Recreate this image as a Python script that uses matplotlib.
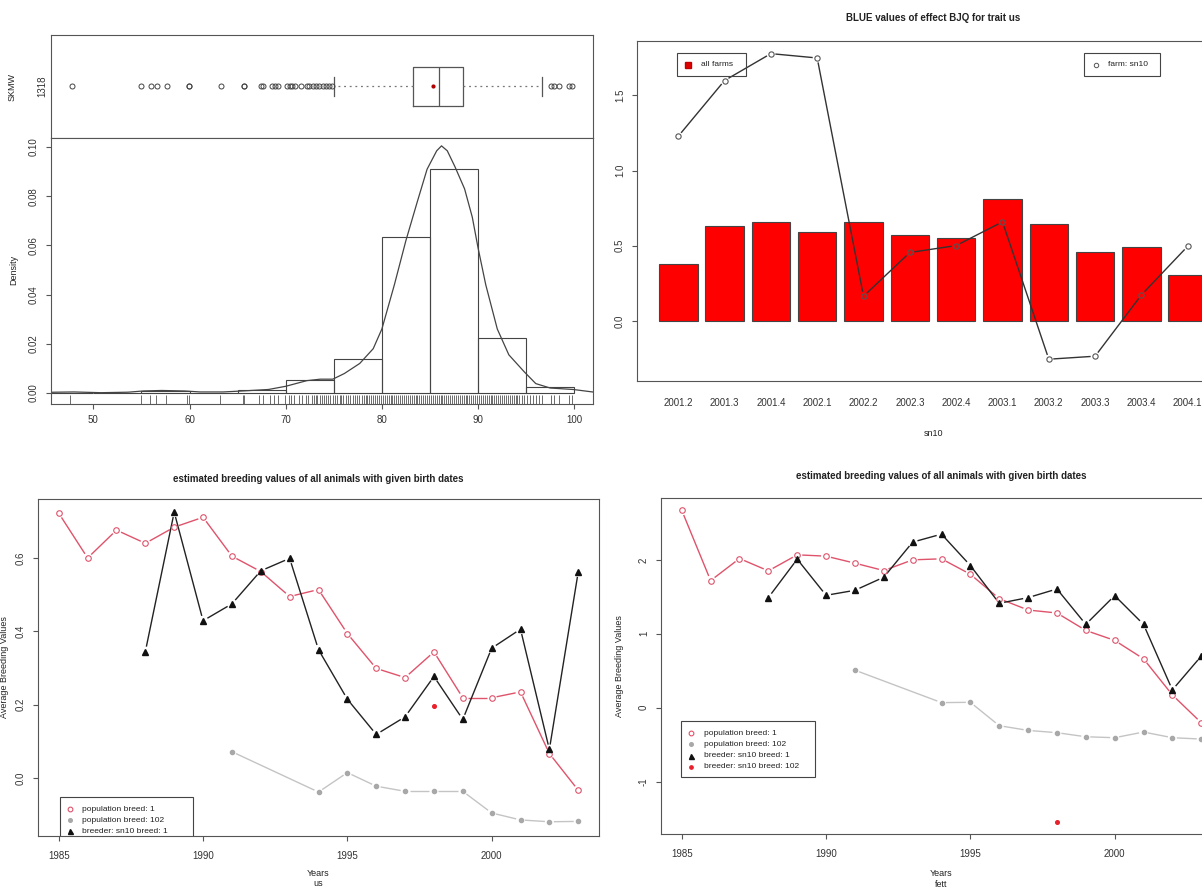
import numpy as np
import matplotlib
matplotlib.use('Agg')
import matplotlib.pyplot as plt
from matplotlib.patches import Rectangle
from matplotlib.lines import Line2D
from matplotlib.collections import LineCollection
from matplotlib.transforms import IdentityTransform

plt.rcParams['font.family'] = ['Liberation Sans', 'DejaVu Sans']

W, H = 1202, 888

# ---- top left: SKMW distribution (n = 1318)
hist_edges = [45, 50, 55, 60, 65, 70, 75, 80, 85, 90, 95, 100]
hist_density = [0.00015, 0.0, 0.0009, 0.00015, 0.0012, 0.0053, 0.0137,
                0.0635, 0.0910, 0.0222, 0.0023]
kde_x = [44.0, 46.0, 48.0, 50.8, 53.6, 55.2, 57.1, 59.5, 61.1, 63.5, 65.5,
         68.2, 70.0, 72.2, 73.6, 74.9, 76.1, 77.7, 79.1, 80.0, 81.3, 82.5,
         83.7, 84.7, 85.7, 86.2, 86.8, 87.6, 88.6, 89.4, 90.0, 90.8, 92.0,
         93.2, 94.8, 96.0, 97.5, 99.9, 101.9, 103.0]
kde_y = [0.0001, 0.0003, 0.0004, 0.0001, 0.0003, 0.0008, 0.0010, 0.0008,
         0.0004, 0.0004, 0.0008, 0.0014, 0.0027, 0.0050, 0.0056, 0.0056,
         0.0079, 0.0120, 0.0180, 0.0260, 0.0440, 0.0620, 0.0780, 0.0910,
         0.0985, 0.1005, 0.0985, 0.0920, 0.0830, 0.0715, 0.0590, 0.0440,
         0.0260, 0.0155, 0.0086, 0.0038, 0.0020, 0.0014, 0.0004, 0.0001]
box_q1, box_med, box_q3 = 83.2, 85.9, 88.4
box_whislo, box_whishi = 75.0, 96.6
box_mean = 85.3
box_outliers = [47.8, 55.0, 56.0, 56.6, 57.7, 59.9, 59.9, 63.3, 65.7, 65.7,
                67.4, 67.6, 68.6, 68.9, 69.2, 70.1, 70.4, 70.7, 71.0, 71.6,
                72.2, 72.4, 72.8, 73.2, 73.5, 73.9, 74.2, 74.5, 74.8,
                97.6, 97.9, 98.4, 99.5, 99.8]
rug_values = [47.6, 55.0, 55.9, 56.5, 57.6, 59.7, 59.9, 63.2, 65.6, 65.7,
              67.2, 67.6, 68.4, 68.8, 69.2, 69.9, 70.3, 70.6, 70.9, 71.4,
              71.7, 72.1, 72.3, 72.7, 72.9, 73.2, 73.3, 73.6, 73.8, 74.0,
              74.2, 74.4, 74.6, 74.9, 75.1, 75.3, 75.6, 75.8, 76.0, 76.3,
              76.5, 76.7, 77.0, 77.2, 77.4, 77.6, 77.9, 78.1, 78.3, 78.5,
              78.7, 78.9, 79.1, 79.3, 79.5, 79.7, 79.9, 80.1, 80.3, 80.5,
              80.7, 80.9, 81.1, 81.3, 81.5, 81.7, 81.9, 82.1, 82.3, 82.5,
              82.7, 82.9, 83.1, 83.3, 83.5, 83.7, 83.9, 84.1, 84.3, 84.5,
              84.7, 84.9, 85.1, 85.3, 85.5, 85.7, 85.9, 86.1, 86.3, 86.5,
              86.7, 86.9, 87.1, 87.3, 87.5, 87.7, 87.9, 88.1, 88.3, 88.5,
              88.7, 88.9, 89.1, 89.3, 89.5, 89.7, 89.9, 90.1, 90.3, 90.5,
              90.7, 90.9, 91.1, 91.3, 91.5, 91.7, 91.9, 92.1, 92.3, 92.5,
              92.7, 92.9, 93.1, 93.3, 93.5, 93.7, 93.9, 94.1, 94.3, 94.6,
              94.8, 95.1, 95.4, 95.7, 96.0, 96.3, 96.6, 97.6, 97.9, 98.4,
              99.5, 99.8]

# ---- top right: BLUE values of effect BJQ
periods = ['2001.2', '2001.3', '2001.4', '2002.1', '2002.2', '2002.3',
           '2002.4', '2003.1', '2003.2', '2003.3', '2003.4', '2004.1']
blue_all = [0.381, 0.634, 0.656, 0.590, 0.656, 0.570, 0.552, 0.814,
            0.643, 0.459, 0.490, 0.302]
blue_sn10 = [1.228, 1.599, 1.778, 1.749, 0.164, 0.455, 0.501, 0.659,
             -0.255, -0.235, 0.173, 0.497]

# ---- bottom: average breeding values by birth year
years = list(range(1985, 2004))
years_sn10 = list(range(1988, 2004))
years_102 = [1991, 1994, 1995, 1996, 1997, 1998, 1999, 2000, 2001, 2002, 2003]
year_sn10_102 = [1998]

us_pop1 = [0.722, 0.600, 0.676, 0.640, 0.684, 0.711, 0.605, 0.563, 0.495,
           0.514, 0.394, 0.299, 0.274, 0.344, 0.219, 0.219, 0.235, 0.067,
           -0.033]
us_sn10_1 = [0.345, 0.725, 0.429, 0.475, 0.565, 0.599, 0.350, 0.215, 0.119,
             0.167, 0.277, 0.160, 0.354, 0.406, 0.078, 0.562]
us_pop102 = [0.072, -0.038, 0.015, -0.022, -0.036, -0.036, -0.036, -0.095,
             -0.114, -0.119, -0.118]
us_sn10_102 = [0.196]

fett_pop1 = [2.670, 1.719, 2.018, 1.851, 2.068, 2.050, 1.955, 1.855, 2.000,
             2.014, 1.805, 1.475, 1.321, 1.281, 1.045, 0.910, 0.661, 0.172,
             -0.204]
fett_sn10_1 = [1.489, 2.009, 1.520, 1.588, 1.765, 2.240, 2.348, 1.923, 1.412,
               1.489, 1.606, 1.127, 1.516, 1.127, 0.240, 0.697]
fett_pop102 = [0.507, 0.068, 0.072, -0.244, -0.308, -0.339, -0.394, -0.407,
               -0.330, -0.407, -0.425]
fett_sn10_102 = [-1.552]

RED = '#DF536B'
GRAY_LINE = '#C4C4C4'
GRAY_PT = '#A8A8A8'
EDGE = '#555555'
TXT = '#333333'

fig = plt.figure(figsize=(W / 100, H / 100), dpi=100)


def add_axes_px(x0, y0, x1, y1):
    return fig.add_axes([x0 / W, 1 - y1 / H, (x1 - x0) / W, (y1 - y0) / H])


def r_style(ax, xpad=4, ypad=5):
    for s in ax.spines.values():
        s.set_color(EDGE)
        s.set_linewidth(0.8)
    ax.tick_params(direction='out', length=3.6, width=0.8, color=EDGE,
                   labelsize=7, labelcolor=TXT)
    ax.tick_params(axis='y', labelrotation=90, pad=ypad)
    ax.tick_params(axis='x', pad=xpad)
    plt.setp(ax.get_yticklabels(), va='center')


def gapped(ax, x, y, gap, **kw):
    # R type="b": segments stop short of the points
    pts = ax.transData.transform(np.column_stack([x, y]))
    inv = ax.transData.inverted()
    segs = []
    for a, b in zip(pts[:-1], pts[1:]):
        d = b - a
        n = np.hypot(d[0], d[1])
        if n <= 2 * gap:
            continue
        u = d / n
        segs.append(inv.transform([a + u * gap, b - u * gap]))
    ax.add_collection(LineCollection(segs, **kw))


def px_text(x, y, s, **kw):
    fig.text(x / W, 1 - y / H, s, ha='center', va='center', color='#222', **kw)


def legend_px(ax, box, rows, mark_x, text_x, fs=6):
    x0, y0, x1, y1 = box
    ax.add_patch(Rectangle((x0, H - y1), x1 - x0, y1 - y0,
                           transform=IdentityTransform(), facecolor='none',
                           edgecolor='#444', lw=0.8, zorder=10))
    for ry, label, style in rows:
        ax.add_artist(Line2D([mark_x], [H - ry], transform=IdentityTransform(),
                             ls='none', zorder=11, **style))
        ax.text(text_x, H - ry, label, transform=IdentityTransform(),
                fontsize=fs, va='center', ha='left', color='#222',
                clip_on=True, zorder=11)


# ================= top left: boxplot + histogram =================
ax_box = add_axes_px(51, 35, 593, 138)
ax_hist = add_axes_px(51, 138, 593, 404)
xlim_skmw = (45.6, 101.95)

stats = [dict(med=box_med, q1=box_q1, q3=box_q3, whislo=box_whislo,
              whishi=box_whishi, mean=box_mean, fliers=box_outliers)]
ax_box.bxp(stats, positions=[1], widths=0.37, orientation='horizontal',
           showmeans=True,
           boxprops=dict(color='#555', lw=0.9),
           medianprops=dict(color='#555', lw=0.9),
           whiskerprops=dict(color='#777', lw=0.9, ls=(0, (1.5, 3))),
           capprops=dict(color='#555', lw=0.9),
           capwidths=0.19,
           flierprops=dict(marker='o', ms=3.6, mfc='none', mec='#444', mew=0.7),
           meanprops=dict(marker='o', ms=2.0, mfc='#B00000', mec='#B00000'))
ax_box.set_xlim(*xlim_skmw)
ax_box.set_ylim(0.5, 1.5)
r_style(ax_box)
ax_box.set_xticks([])
ax_box.set_yticks([1])
ax_box.set_yticklabels(['1318'])
plt.setp(ax_box.get_yticklabels(), va='center')
ax_box.tick_params(axis='y', length=0, pad=3)

ax_hist.bar(hist_edges[:-1], hist_density, width=5, align='edge', fill=False,
            edgecolor='#444', lw=0.8)
ax_hist.plot(kde_x, kde_y, color='#444', lw=0.9)
ax_hist.vlines(rug_values, 0, 0.035, transform=ax_hist.get_xaxis_transform(),
               color='#555', lw=0.6)
ax_hist.set_xlim(*xlim_skmw)
ax_hist.set_ylim(-0.0045, 0.1037)
ax_hist.set_xticks([50, 60, 70, 80, 90, 100])
ax_hist.set_yticks([0.0, 0.02, 0.04, 0.06, 0.08, 0.10])
ax_hist.set_yticklabels(['0.00', '0.02', '0.04', '0.06', '0.08', '0.10'])
r_style(ax_hist, xpad=4, ypad=5)
px_text(12, 87, 'SKMW', fontsize=6.5, rotation=90)
px_text(14, 270, 'Density', fontsize=6.5, rotation=90)

# ================= top right: BLUE bar chart =================
ax_bar = add_axes_px(637, 41, 1229, 381)
bar_pos = 0.7 + 1.2 * np.arange(len(periods))
ax_bar.bar(bar_pos, blue_all, width=1.0, color='#FF0000', edgecolor='#444',
           lw=0.8, zorder=1)
ax_bar.set_xlim(-0.368, 14.968)
ax_bar.set_ylim(-0.40, 1.862)
gapped(ax_bar, bar_pos, blue_sn10, 4.5, colors='#333', lw=1.0, zorder=3)
ax_bar.plot(bar_pos, blue_sn10, ls='none', marker='o', ms=3.8, mfc='none',
            mec='#555', mew=0.8, zorder=4)
ax_bar.set_xticks(bar_pos)
ax_bar.set_xticklabels(periods)
ax_bar.set_yticks([0.0, 0.5, 1.0, 1.5])
ax_bar.set_yticklabels(['0.0', '0.5', '1.0', '1.5'])
r_style(ax_bar, ypad=5)
ax_bar.tick_params(axis='x', length=0, pad=12)
legend_px(ax_bar, (677, 53, 746, 76),
          [(64.5, 'all farms', dict(marker='s', ms=4.5, mfc='#E00000', mec='#C00000'))],
          688, 701)
legend_px(ax_bar, (1084, 53, 1160, 76),
          [(64.5, 'farm: sn10', dict(marker='o', ms=3.2, mfc='none', mec='#555', mew=0.7))],
          1096, 1108)
px_text(933, 18, 'BLUE values of effect BJQ for trait us', fontsize=7,
        fontweight='bold')
px_text(933, 433, 'sn10', fontsize=6.5)


# ================= bottom: breeding values =================
def breeding_panel(ax, pop1, sn10_1, pop102, sn10_102, ylim, yticks, ylabels):
    ax.set_xlim(1984.28, 2003.72)
    ax.set_ylim(*ylim)
    gapped(ax, years_102, pop102, 4.5, colors=GRAY_LINE, lw=1.0, zorder=2)
    ax.plot(years_102, pop102, ls='none', marker='o', ms=3.0, mfc=GRAY_PT,
            mec=GRAY_PT, zorder=3)
    gapped(ax, years, pop1, 5.0, colors=RED, lw=1.0, zorder=2)
    ax.plot(years, pop1, ls='none', marker='o', ms=4.0, mfc='none', mec=RED,
            mew=0.8, zorder=3)
    gapped(ax, years_sn10, sn10_1, 5.0, colors='#222', lw=1.0, zorder=2)
    ax.plot(years_sn10, sn10_1, ls='none', marker='^', ms=4.2, mfc='#111',
            mec='#111', zorder=3)
    ax.plot(year_sn10_102, sn10_102, ls='none', marker='o', ms=2.6,
            mfc='#E8202A', mec='#E8202A', zorder=3)
    ax.set_xticks([1985, 1990, 1995, 2000])
    ax.set_yticks(yticks)
    ax.set_yticklabels(ylabels)
    r_style(ax, xpad=7, ypad=5)


legend_rows = [
    ('population breed: 1', dict(marker='o', ms=3.4, mfc='none', mec=RED, mew=0.8)),
    ('population breed: 102', dict(marker='o', ms=2.6, mfc=GRAY_PT, mec=GRAY_PT)),
    ('breeder: sn10 breed: 1', dict(marker='^', ms=3.6, mfc='#111', mec='#111')),
    ('breeder: sn10 breed: 102', dict(marker='o', ms=2.4, mfc='#E8202A', mec='#E8202A')),
]

ax_us = add_axes_px(38, 499, 599, 836)
breeding_panel(ax_us, us_pop1, us_sn10_1, us_pop102, us_sn10_102,
               (-0.1578, 0.7608), [0.0, 0.2, 0.4, 0.6],
               ['0.0', '0.2', '0.4', '0.6'])
legend_px(ax_us, (60, 797, 193, 853),
          [(809.3 + 11 * i, lab, st) for i, (lab, st) in enumerate(legend_rows)],
          69.5, 82)
px_text(318, 479, 'estimated breeding values of all animals with given birth dates',
        fontsize=7, fontweight='bold')
px_text(318, 873, 'Years', fontsize=6.5)
px_text(318, 883.5, 'us', fontsize=6.5)
px_text(5, 667, 'Average Breeding Values', fontsize=6.5, rotation=90)

ax_fett = add_axes_px(661, 498, 1222, 834)
breeding_panel(ax_fett, fett_pop1, fett_sn10_1, fett_pop102, fett_sn10_102,
               (-1.71, 2.837), [-1, 0, 1, 2], ['-1', '0', '1', '2'])
legend_px(ax_fett, (681, 721, 815, 777),
          [(733.3 + 11.1 * i, lab, st) for i, (lab, st) in enumerate(legend_rows)],
          690.5, 704)
px_text(941, 476, 'estimated breeding values of all animals with given birth dates',
        fontsize=7, fontweight='bold')
px_text(941, 873, 'Years', fontsize=6.5)
px_text(941, 884, 'fett', fontsize=6.5)
px_text(620, 666, 'Average Breeding Values', fontsize=6.5, rotation=90)

fig.savefig('out.png', dpi=100)
